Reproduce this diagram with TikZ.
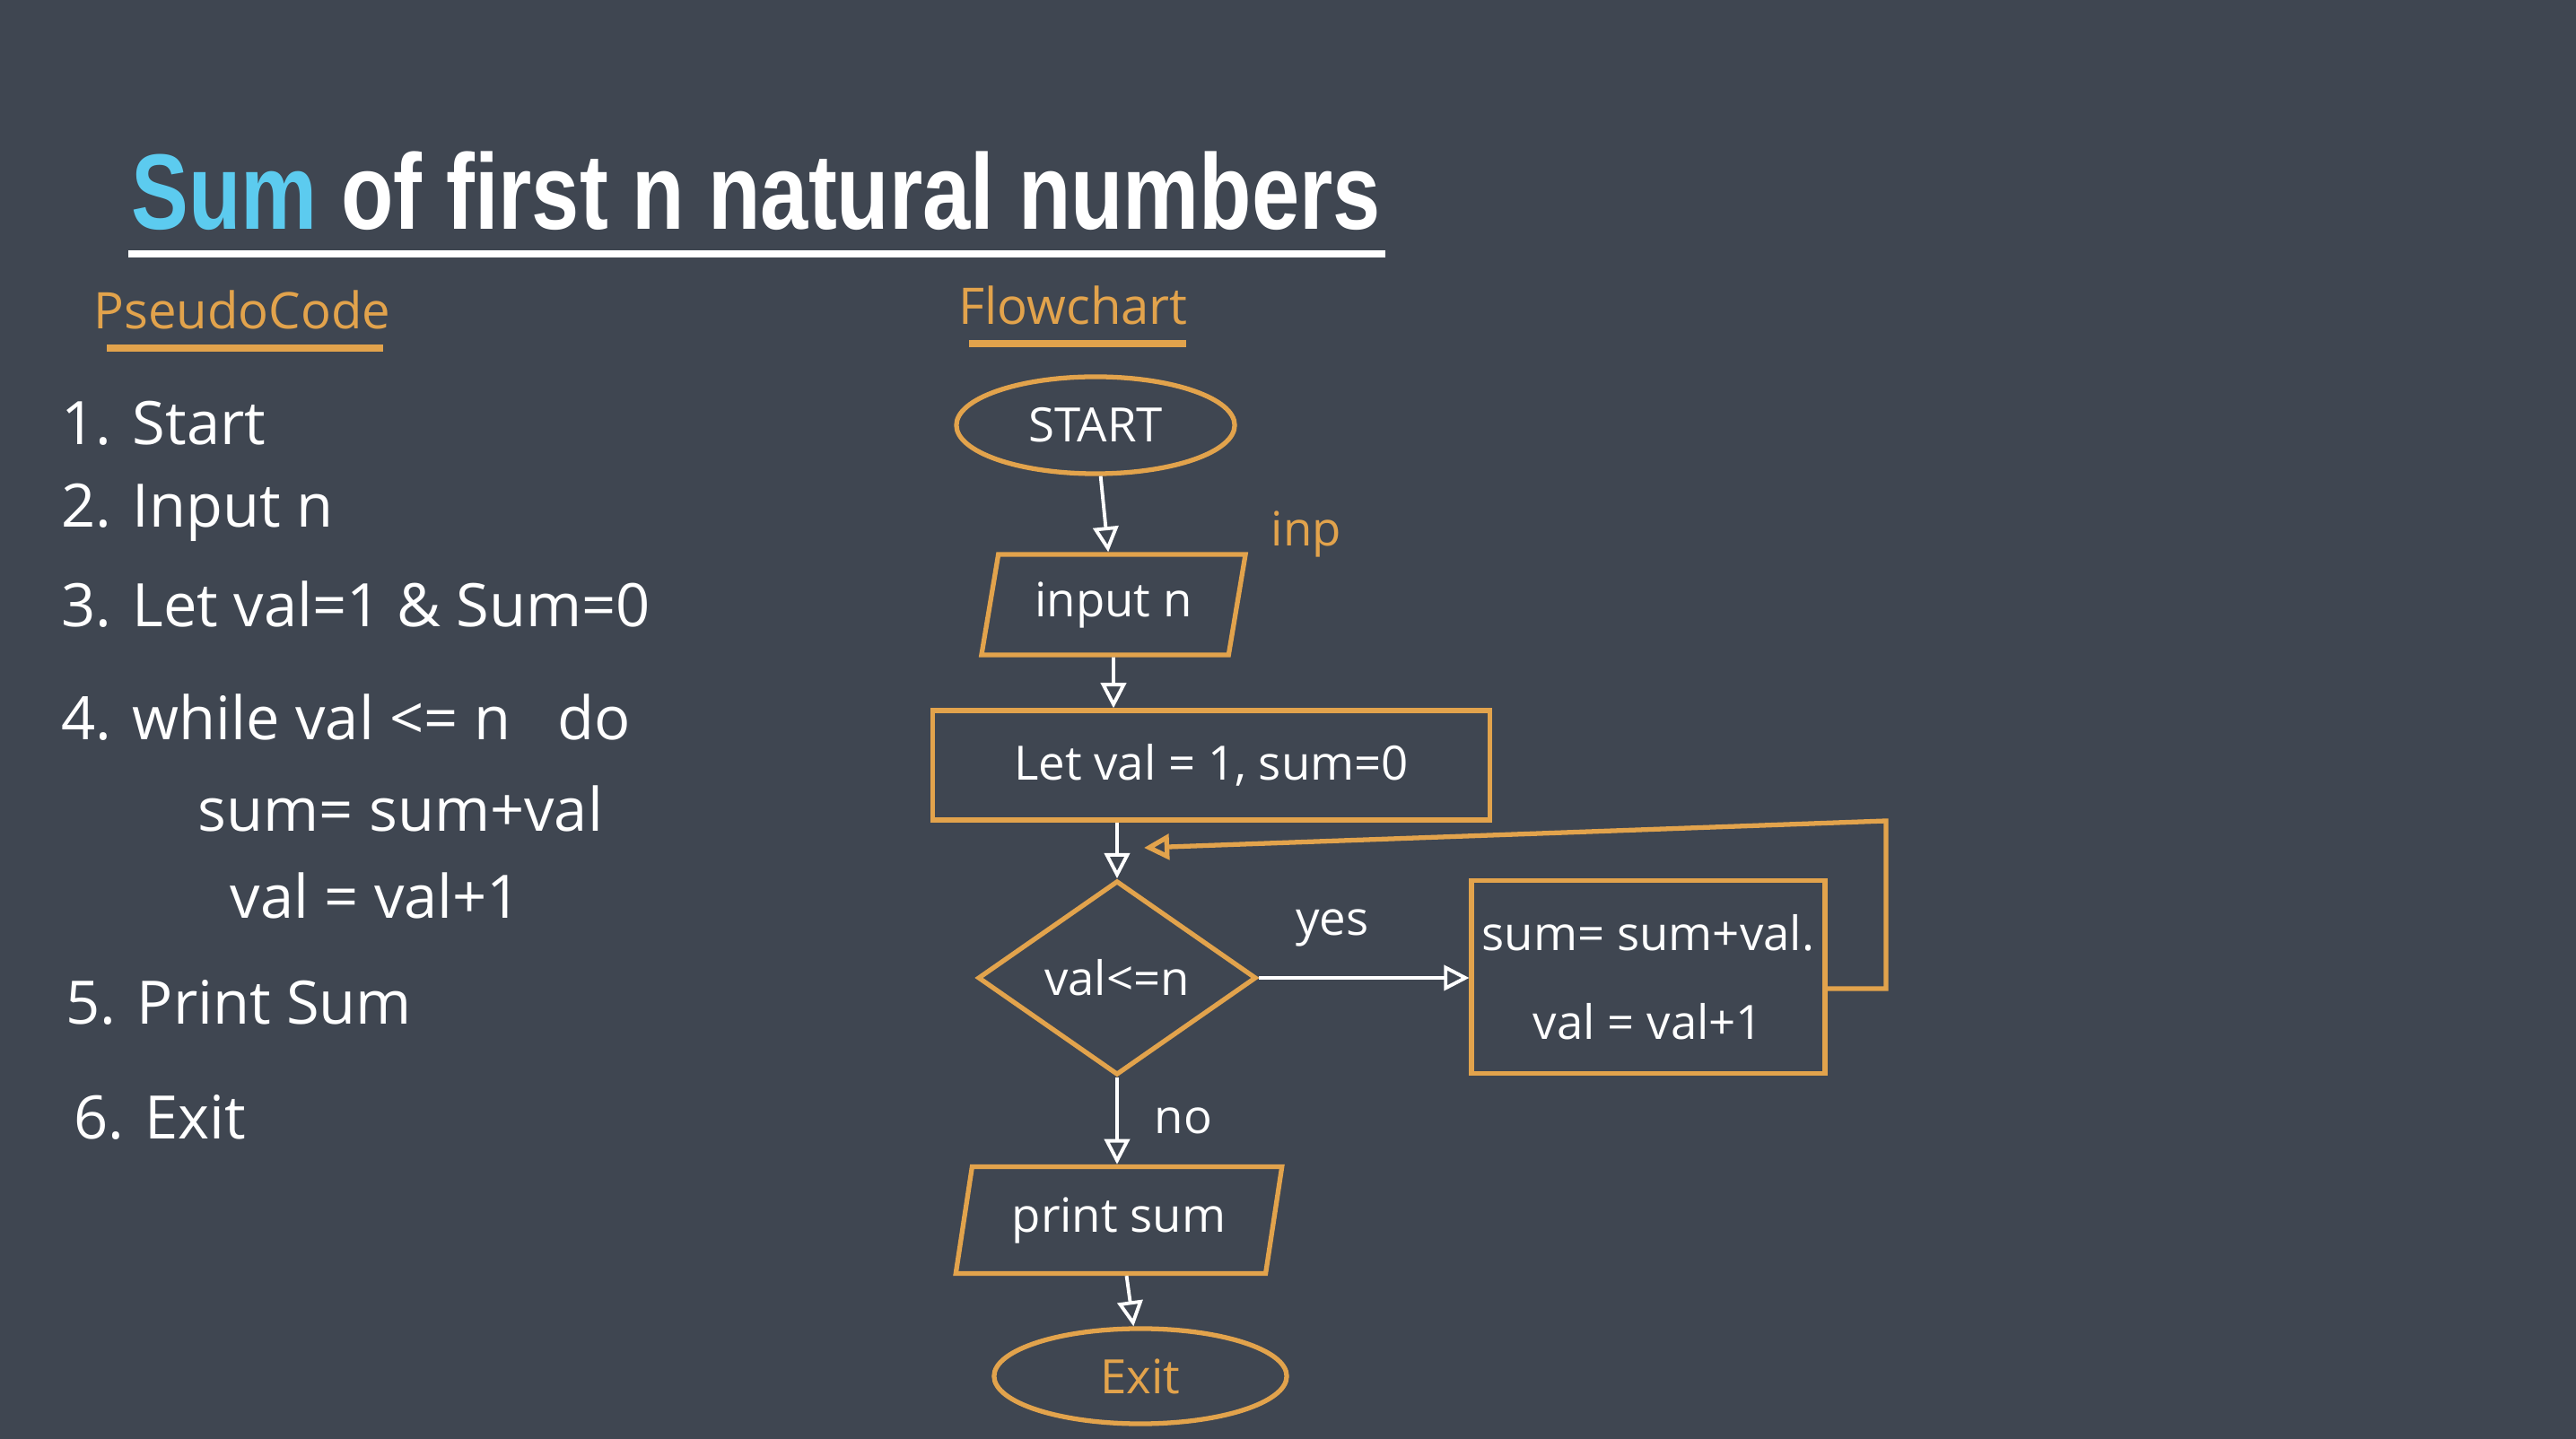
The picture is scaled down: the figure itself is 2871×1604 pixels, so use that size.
\documentclass[tikz,border=0pt]{standalone}
\usepackage{fontspec}
\setmainfont{Open Sans}
\newfontfamily\titlefont{Liberation Sans}
\usetikzlibrary{shapes.geometric,arrows.meta}

\definecolor{slate}{HTML}{3F4651}
\definecolor{marker}{HTML}{E2A34C}
\definecolor{headblue}{HTML}{5CCBEF}

\tikzset{
  hand/.style={text=white, anchor=west, inner sep=0pt, font=\fontsize{19}{22}\selectfont},
  box/.style={draw=marker, line width=1.5pt, text=white, font=\fontsize{15}{18}\selectfont},
  terminal/.style={box, ellipse},
  io/.style={box, trapezium, trapezium left angle=79, trapezium right angle=101, trapezium stretches=true},
  process/.style={box, rectangle},
  decision/.style={box, diamond, inner sep=1pt},
  flow/.style={draw=white, line width=1.1pt, -{Triangle[open,length=8pt,width=8pt]}},
  loopflow/.style={flow, draw=marker, line width=1.5pt},
}

\begin{document}
\begin{tikzpicture}[x=0.01cm, y=-0.01cm]
  \fill[slate] (0,0) rectangle (2871,1604);

  % title
  \node[anchor=base west, inner sep=0pt, xscale=0.80, text=white,
        font=\titlefont\bfseries\fontsize{34}{36}\selectfont] (title) at (146,256)
        {\textcolor{headblue}{Sum} of first n natural numbers};
  \draw[white, line width=2.5pt] (143,283) -- (1544,283);

  % headings
  \node[text=marker, font=\fontsize{16}{18}\selectfont] (pchead) at (270,345) {PseudoCode};
  \draw[marker, line width=2pt] (119,388) -- (427,388);
  \node[text=marker, font=\fontsize{16}{18}\selectfont] (fchead) at (1196,340) {Flowchart};
  \draw[marker, line width=2pt] (1080,383) -- (1322,383);

  % pseudocode
  \foreach \x/\y/\t [count=\i] in {68/472/1. Start, 68/571/2. Input n,
      68/674/3. Let val=1 \& Sum=0, 68/800/4. while val <= n \ \ do,
      220/901/sum= sum+val, 256/998/val = val+1, 73/1117/5. Print Sum, 82/1245/6. Exit}
    \node[hand] (line\i) at (\x,\y) {\t};

  % flowchart
  \node[terminal, minimum width=3.1cm, minimum height=1.08cm] (start) at (1221,474) {START};
  \node[io, minimum width=2.95cm, minimum height=1.12cm] (inpn) at (1241,674) {input n};
  \node[text=marker, font=\fontsize{15}{18}\selectfont] (inptag) at (1456,595) {inp};
  \node[process, minimum width=6.2cm, minimum height=1.22cm] (init) at (1350,853) {Let val = 1, sum=0};
  \node[decision, minimum width=3.1cm, minimum height=1.92cm] (test) at (1245,1090) {val<=n};
  \node[process, align=center, minimum width=3.7cm, minimum height=2.15cm] (body) at (1837,1089)
       {sum= sum+val.\\[10pt]val = val+1};
  \node[io, minimum width=3.66cm, minimum height=1.19cm] (out) at (1247,1360) {print sum};
  \node[terminal, text=marker, minimum width=3.26cm, minimum height=1.06cm] (stop) at (1271,1534) {Exit};

  \coordinate (turn) at (2102,915);
  \coordinate (back) at (1275,945);

  \draw[flow] (start) -- (inpn);
  \draw[flow] (inpn) -- (inpn |- init.north);
  \draw[flow] (test.north |- init.south) -- (test.north);
  \draw[flow] (test.east) -- (test.east -| body.west) node[pos=.35, above=6pt, text=white, font=\fontsize{15}{18}\selectfont] {yes};
  \draw[loopflow] ([yshift=-0.13cm]body.east) -| (turn) -- (back);
  \draw[flow] (test.south) -- (test.south |- out.north) node[midway, right=8pt, text=white, font=\fontsize{15}{18}\selectfont] {no};
  \draw[flow] (out) -- (stop);
\end{tikzpicture}
\end{document}
